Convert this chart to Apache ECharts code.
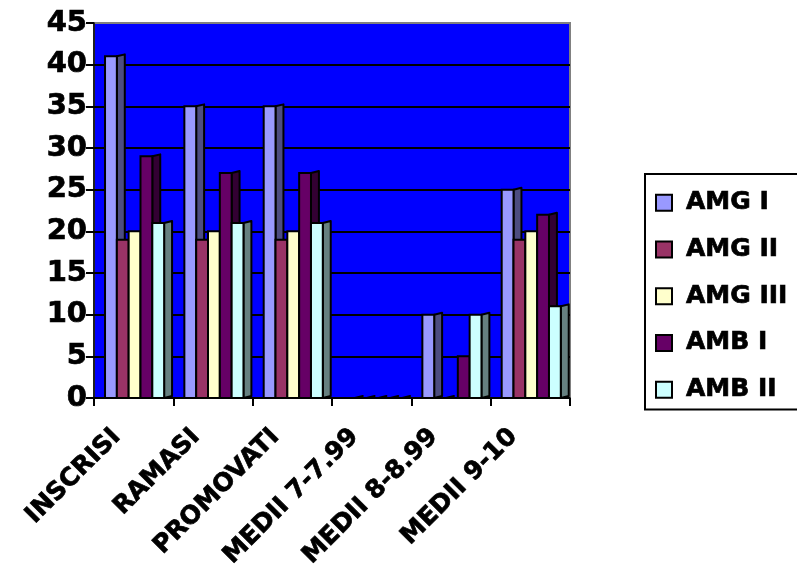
<!DOCTYPE html>
<html>
<head>
<meta charset="utf-8">
<script src="https://cdn.jsdelivr.net/npm/echarts@6/dist/echarts.min.js"></script>
<style>
html,body{margin:0;padding:0;background:#fff;}
#chart{width:797px;height:575px;}
</style>
</head>
<body>
<div id="chart"></div>
<script>
const categories = ['INSCRISI', 'RAMASI', 'PROMOVATI', 'MEDII 7-7.99', 'MEDII 8-8.99', 'MEDII 9-10'];
const seriesNames = ['AMG I', 'AMG II', 'AMG III', 'AMB I', 'AMB II'];
const amgI   = [41, 35, 35, 0, 10, 25];
const amgII  = [19, 19, 19, 0, 0, 19];
const amgIII = [20, 20, 20, 0, 0, 20];
const ambI   = [29, 27, 27, 0, 5, 22];
const ambII  = [21, 21, 21, 0, 10, 11];
const yTicks = { min: 0, max: 45, interval: 5 };

const seriesValues = [amgI, amgII, amgIII, ambI, ambII];
const frontColors = ['#9999FF', '#993366', '#FFFFCC', '#660066', '#CCFFFF'];
const sideColors  = ['#4D4D80', '#4D1A33', '#808066', '#330033', '#668080'];

function makeRender(si) {
  return function (params, api) {
    const c = api.value(0), v = api.value(1);
    const base = api.coord([c, 0]);
    const top = api.coord([c, v]);
    const band = api.size([1, 0])[0];
    const w = band * 0.149;
    const x = base[0] - band / 2 + band * 0.139 + si * w;
    const d = band * 0.1, dy = band * 0.025;
    return {
      type: 'group',
      children: [
        { type: 'polygon',
          shape: { points: [[x + w, top[1]], [x + w + d, top[1] - dy], [x + w + d, base[1] - dy], [x + w, base[1]]] },
          style: { fill: sideColors[si], stroke: '#000', lineWidth: 2, lineJoin: 'round' } },
        { type: 'rect',
          shape: { x: x, y: top[1], width: w, height: base[1] - top[1] },
          style: { fill: frontColors[si], stroke: '#000', lineWidth: 2 } }
      ]
    };
  };
}

const chart = echarts.init(document.getElementById('chart'), null, { renderer: 'canvas' });
const font = 'DejaVu Sans';
const heavy = { textBorderColor: '#000', textBorderWidth: 0.7 };
const splitColors = ['#000', '#000', '#000', '#000', '#000', '#000', '#000', '#000', '#000', '#808080'];
chart.setOption({
  animation: false,
  backgroundColor: '#fff',
  grid: { left: 94, right: 227, top: 23, bottom: 177, show: true,
          backgroundColor: '#0000FF', borderColor: '#808080', borderWidth: 2 },
  legend: {
    orient: 'vertical', left: 645, top: 174,
    padding: [16, 40, 7, 10], itemGap: 21, itemWidth: 16, itemHeight: 16,
    borderColor: '#000', borderWidth: 2, backgroundColor: '#fff',
    icon: 'rect',
    textStyle: Object.assign({ fontFamily: font, fontWeight: 'bold', fontSize: 25, color: '#000', padding: [0, 0, 0, 9] }, heavy),
    data: seriesNames.map((n, i) => ({ name: n, icon: 'rect',
      itemStyle: { color: frontColors[i], borderColor: '#000', borderWidth: 2 } }))
  },
  xAxis: {
    type: 'category', data: categories, boundaryGap: true,
    axisLine: { show: true, lineStyle: { color: '#000', width: 1.5 } },
    axisTick: { show: true, length: 8, lineStyle: { color: '#000', width: 2 } },
    axisLabel: Object.assign({ interval: 0, rotate: 45, margin: 18, padding: [0, 24, 0, 0],
      fontFamily: font, fontWeight: 'bold', fontSize: 25, color: '#000' }, heavy),
    splitLine: { show: false }
  },
  yAxis: {
    type: 'value', min: yTicks.min, max: yTicks.max, interval: yTicks.interval,
    axisLine: { show: true, lineStyle: { color: '#000', width: 1.5 } },
    axisTick: { show: true, length: 8, lineStyle: { color: '#000', width: 2 } },
    axisLabel: Object.assign({ margin: 7, fontFamily: font, fontWeight: 'bold', fontSize: 29, color: '#000' }, heavy),
    splitLine: { show: true, lineStyle: { color: splitColors, width: 2 } }
  },
  series: seriesNames.map((n, i) => ({
    name: n, type: 'custom',
    itemStyle: { color: frontColors[i] },
    encode: { x: 0, y: 1 },
    data: seriesValues[i].map((v, k) => [k, v]),
    renderItem: makeRender(i),
    z: 2
  }))
});
</script>
</body>
</html>
